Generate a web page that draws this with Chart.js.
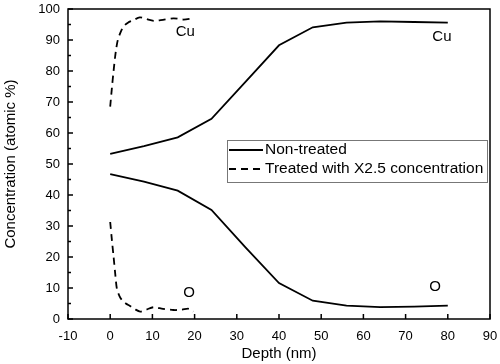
<!DOCTYPE html>
<html>
<head>
<meta charset="utf-8">
<script src="https://cdn.jsdelivr.net/npm/chart.js@4/dist/chart.umd.min.js"></script>
<style>
  html, body { margin: 0; padding: 0; background: #ffffff; }
  #wrap { width: 500px; height: 364px; }
</style>
</head>
<body>
<div id="wrap"><canvas id="depthChart" width="500" height="364"></canvas></div>
<script>
// Depth profile data
const depthNon = [0, 8, 16, 24, 32, 40, 48, 56, 64, 72, 80];
const cuNon = [53.3, 55.8, 58.6, 64.6, 76.4, 88.3, 94.1, 95.6, 96.0, 95.8, 95.6];
const oNon = [46.7, 44.3, 41.4, 35.2, 23.2, 11.6, 5.9, 4.3, 3.8, 4.0, 4.3];

const depthCuTreated = [0, 0.4, 0.8, 1.3, 1.8, 2.5, 3.2, 4.2, 5.5, 7.0, 8.5, 10.3, 12.5, 15.0, 17.4, 19.4];
const cuTreated = [68.5, 74.5, 80.0, 86.0, 90.0, 92.6, 94.4, 95.6, 96.4, 97.3, 96.8, 96.2, 96.5, 97.0, 96.6, 97.0];

const depthOTreated = [0, 0.4, 0.8, 1.2, 1.6, 2.2, 2.8, 3.7, 4.7, 5.8, 7.1, 8.5, 10.3, 12.5, 15.0, 17.0, 18.6, 19.7];
const oTreated = [31.3, 25.5, 20.1, 14.5, 9.6, 7.4, 6.1, 5.0, 4.2, 3.2, 2.4, 3.0, 3.8, 3.3, 2.9, 3.0, 3.3, 2.4];

const xTicks = [-10, 0, 10, 20, 30, 40, 50, 60, 70, 80, 90];
const yTicks = [0, 10, 20, 30, 40, 50, 60, 70, 80, 90, 100];

const seriesNames = ['Non-treated', 'Treated with X2.5 concentration'];

// Element labels placed in data coordinates
const elementLabels = [
    { text: 'Cu', x: 17.8, y: 92.5 },
    { text: 'Cu', x: 78.6, y: 90.9 },
    { text: 'O', x: 18.7, y: 8.5 },
    { text: 'O', x: 77.0, y: 10.4 }
];

const FONT = "'Liberation Sans', Arial, sans-serif";

function pairs(xs, ys) {
    return xs.map(function (x, i) { return { x: x, y: ys[i] }; });
}

// keep the plot box fixed: no extra room for overhanging end labels
function noScalePadding(scale) {
    scale.paddingTop = 0;
    scale.paddingBottom = 0;
    scale.paddingLeft = 0;
    scale.paddingRight = 0;
}

const solidStyle = { borderColor: '#000', borderWidth: 1.8, pointRadius: 0, tension: 0, fill: false };
const dashStyle = { borderColor: '#000', borderWidth: 1.8, pointRadius: 0, tension: 0.3, fill: false, borderDash: [7, 5] };

// Frame, inward ticks, element labels and legend
const decorPlugin = {
    id: 'decor',
    afterDraw(chart) {
        const ctx = chart.ctx;
        const area = chart.chartArea;
        const xs = chart.scales.x;
        const ys = chart.scales.y;
        ctx.save();
        ctx.strokeStyle = '#000';
        ctx.lineWidth = 1.5;
        ctx.strokeRect(area.left, area.top, area.right - area.left, area.bottom - area.top);

        ctx.beginPath();
        xTicks.forEach(function (v) {
            const px = xs.getPixelForValue(v);
            ctx.moveTo(px, area.bottom);
            ctx.lineTo(px, area.bottom - 5);
        });
        for (let v = 0; v <= 100; v += 5) {
            const py = ys.getPixelForValue(v);
            const len = (v % 10 === 0) ? 5 : 3;
            ctx.moveTo(area.left, py);
            ctx.lineTo(area.left + len, py);
        }
        ctx.stroke();

        ctx.fillStyle = '#000';
        ctx.font = '15px ' + FONT;
        ctx.textAlign = 'center';
        ctx.textBaseline = 'middle';
        elementLabels.forEach(function (l) {
            ctx.fillText(l.text, xs.getPixelForValue(l.x), ys.getPixelForValue(l.y));
        });

        // legend box
        const lx = 227, ly = 140, lw = 260, lh = 42;
        ctx.lineWidth = 1;
        ctx.strokeStyle = '#777';
        ctx.strokeRect(lx + 0.5, ly + 0.5, lw, lh);
        ctx.strokeStyle = '#000';
        ctx.lineWidth = 1.8;
        ctx.beginPath();
        ctx.moveTo(lx + 2, ly + 10);
        ctx.lineTo(lx + 36, ly + 10);
        ctx.stroke();
        ctx.setLineDash([7, 5]);
        ctx.beginPath();
        ctx.moveTo(lx + 2, ly + 29);
        ctx.lineTo(lx + 36, ly + 29);
        ctx.stroke();
        ctx.setLineDash([]);
        ctx.font = '15.5px ' + FONT;
        ctx.textAlign = 'left';
        ctx.fillText(seriesNames[0], lx + 38, ly + 10);
        ctx.fillText(seriesNames[1], lx + 38, ly + 29);
        ctx.restore();
    }
};

const config = {
    type: 'line',
    data: {
        datasets: [
            Object.assign({ label: seriesNames[0], data: pairs(depthNon, cuNon) }, solidStyle),
            Object.assign({ label: seriesNames[0] + ' O', data: pairs(depthNon, oNon) }, solidStyle),
            Object.assign({ label: seriesNames[1], data: pairs(depthCuTreated, cuTreated) }, dashStyle),
            Object.assign({ label: seriesNames[1] + ' O', data: pairs(depthOTreated, oTreated) }, dashStyle)
        ]
    },
    options: {
        responsive: false,
        animation: false,
        layout: { padding: { top: 9, right: 10, left: 0, bottom: 0 } },
        plugins: {
            legend: { display: false },
            tooltip: { enabled: false }
        },
        scales: {
            x: {
                type: 'linear',
                min: -10,
                max: 90,
                afterBuildTicks(scale) { scale.ticks = xTicks.map(function (v) { return { value: v }; }); },
                afterFit(scale) { scale.height = 45; noScalePadding(scale); },
                grid: { display: false, drawTicks: false },
                border: { display: false },
                ticks: { color: '#000', padding: 10, font: { family: FONT, size: 13 } },
                title: { display: true, text: 'Depth (nm)', color: '#000', padding: { top: 0, bottom: 1 }, font: { family: FONT, size: 15 } }
            },
            y: {
                type: 'linear',
                min: 0,
                max: 100,
                afterBuildTicks(scale) { scale.ticks = yTicks.map(function (v) { return { value: v }; }); },
                afterFit(scale) { scale.width = 68; noScalePadding(scale); },
                grid: { display: false, drawTicks: false },
                border: { display: false },
                ticks: { color: '#000', padding: 8, font: { family: FONT, size: 13 } },
                title: { display: true, text: 'Concentration (atomic %)', color: '#000', padding: { top: 2, bottom: 0 }, font: { family: FONT, size: 15 } }
            }
        }
    },
    plugins: [decorPlugin]
};

new Chart(document.getElementById('depthChart'), config);
</script>
</body>
</html>
